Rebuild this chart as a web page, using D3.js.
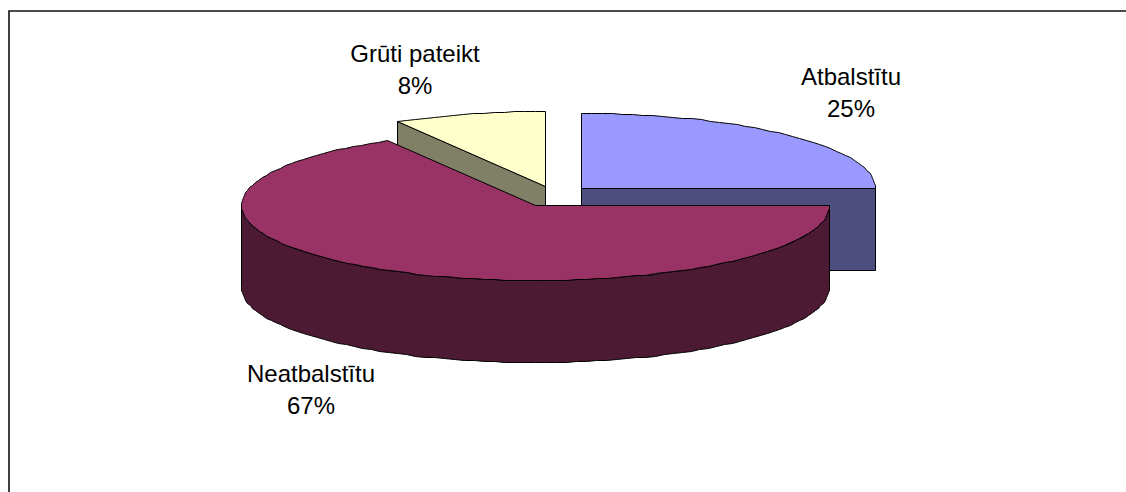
<!DOCTYPE html>
<html><head><meta charset="utf-8">
<script src="https://cdn.jsdelivr.net/npm/d3@7/dist/d3.min.js"></script>
<style>html,body{margin:0;background:#fff}svg{display:block}text{font-family:"Liberation Sans",Arial,sans-serif;font-size:24px;fill:#000}</style>
</head><body><svg id="c" width="1126" height="492"></svg>
<script>
const categories = ["Atbalstītu","Neatbalstītu","Grūti pateikt"];
const values = [25, 66.6, 8.4];
const topColors = ["#9999FF","#993366","#FFFFCC"];
const sideColors = ["#4D4D80","#4D1A33","#808066"];
const apexes = [[581,188],[535,205],[545,186]];
const labelPos = [[851,85],[311,382],[415,62]];
const RX=294, RY=75, DEPTH=82, STEP=Math.PI/90;

const svg=d3.select("#c");
svg.append("path").attr("d","M9,492V11H1126").attr("fill","none").attr("stroke","#111").attr("stroke-width",1.6);

const arcs=d3.pie().sort(null).value(d=>d)(values);
const line=d3.line();
const pt=(a,t,dy=0)=>[Math.round(a[0]+RX*Math.sin(t))+.5,Math.round(a[1]-RY*Math.cos(t))+dy+.5];
function rim(a,t0,t1,dy=0){const n=Math.max(1,Math.round((t1-t0)/STEP));return d3.range(n+1).map(i=>pt(a,t0+(t1-t0)*i/n,dy));}

[0,2,1].forEach(i=>{
  const d=arcs[i],a=apexes[i],g=svg.append("g");
  const o=[a[0]+.5,a[1]+.5];
  const walls=[];
  if(i===0) walls.push([o,pt(a,d.endAngle),pt(a,d.endAngle,DEPTH),[o[0],o[1]+DEPTH]]);
  if(i===2) walls.push([o,pt(a,d.startAngle),pt(a,d.startAngle,DEPTH),[o[0],o[1]+DEPTH]]);
  walls.forEach(w=>g.append("path").attr("d",line(w)+"Z").attr("fill",sideColors[i]).attr("stroke","#000").attr("stroke-width",1));
  if(i===1){
    const t0=Math.PI/2,t1=3*Math.PI/2;
    const up=rim(a,t0,t1),dn=rim(a,t0,t1,DEPTH).reverse();
    g.append("path").attr("d",line(up.concat(dn))+"Z").attr("fill",sideColors[i]).attr("stroke","#000").attr("stroke-width",1);
  }
  g.append("path").attr("d",line([o].concat(rim(a,d.startAngle,d.endAngle)))+"Z")
   .attr("fill",topColors[i]).attr("stroke","#000").attr("stroke-width",1);
  svg.append("text").attr("text-anchor","middle").attr("x",labelPos[i][0]).attr("y",labelPos[i][1]).text(categories[i]);
  svg.append("text").attr("text-anchor","middle").attr("x",labelPos[i][0]).attr("y",labelPos[i][1]+32).text(d3.format(".0f")(values[i])+"%");
});
</script></body></html>
